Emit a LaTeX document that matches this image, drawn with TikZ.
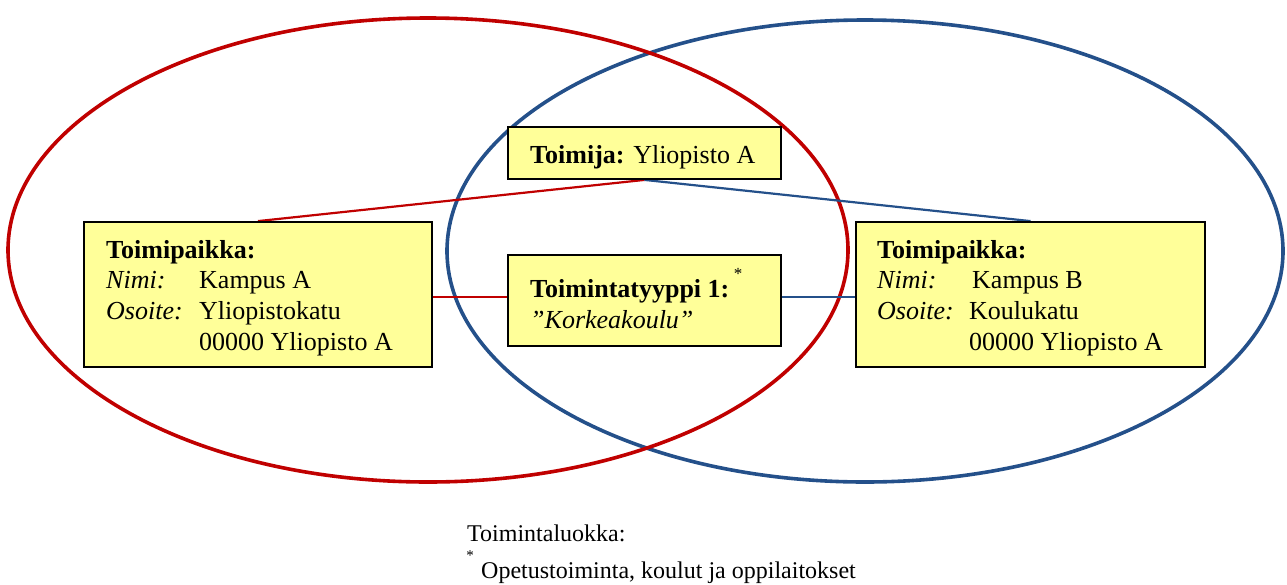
\documentclass[tikz,border=0pt]{standalone}
\usepackage{fontspec}
\setmainfont{Liberation Serif}
\definecolor{ered}{HTML}{C00000}
\definecolor{eblue}{HTML}{24508A}
\definecolor{boxfill}{HTML}{FFFF99}
\begin{document}
\begin{tikzpicture}[x=1pt,y=-1pt,
  box/.style={draw=black,line width=1.8pt,fill=boxfill,inner sep=0pt,rectangle},
  txt/.style={inner sep=0pt,anchor=base west,font=\fontsize{26}{31}\selectfont},
  note/.style={inner sep=0pt,anchor=base west,font=\fontsize{24}{28}\selectfont},
  redline/.style={draw=ered,line width=2.2pt},
  blueline/.style={draw=eblue,line width=2.2pt}]
\useasboundingbox (0,0) rectangle (1287,584);
% ellipses
\draw[eblue,line width=3.6pt] (865,251) ellipse [x radius=418pt, y radius=231pt];
\draw[ered,line width=3.6pt] (428,250) ellipse [x radius=420pt, y radius=232pt];
% boxes
\node[box,minimum width=348pt,minimum height=145pt] (tpA) at (258,294.5) {};
\node[box,minimum width=349pt,minimum height=145pt] (tpB) at (1030.5,294.5) {};
\node[box,minimum width=273pt,minimum height=52pt] (tj) at (644.5,153) {};
\node[box,minimum width=273pt,minimum height=91pt] (tt) at (644.5,300.5) {};
\coordinate (hl) at (0,297);
% connectors
\draw[redline] (tj.south) -- (tpA.north);
\draw[blueline] (tj.south) -- (tpB.north);
\draw[redline] (tpA.east |- hl) -- (tt.west |- hl);
\draw[blueline] (tt.east |- hl) -- (tpB.west |- hl);
\node[box,minimum width=348pt,minimum height=145pt] at (258,294.5) {};
\node[box,minimum width=349pt,minimum height=145pt] at (1030.5,294.5) {};
\node[box,minimum width=273pt,minimum height=52pt] at (644.5,153) {};
\node[box,minimum width=273pt,minimum height=91pt] at (644.5,300.5) {};
% texts
\node[txt] (tjt) at (530,163) {\textbf{Toimija:} Yliopisto A};
\node[txt] (ttt) at (530,297) {\textbf{Toimintatyyppi 1:}};
\node[inner sep=0pt,font=\fontsize{17}{20}\selectfont] (tts) at (738,274) {*};
\node[txt] (ttk) at (530,328) {\textit{”Korkeakoulu”}};
\node[txt] (a1) at (106,258) {\textbf{Toimipaikka:}};
\node[txt] (a2) at (106,288) {\textit{Nimi:}};
\node[txt] (a3) at (199,288) {Kampus A};
\node[txt] (a4) at (106,319) {\textit{Osoite:}};
\node[txt] (a5) at (199,319) {Yliopistokatu};
\node[txt] (a6) at (199,350) {00000 Yliopisto A};
\node[txt] (b1) at (877,258) {\textbf{Toimipaikka:}};
\node[txt] (b2) at (877,288) {\textit{Nimi:}};
\node[txt] (b3) at (972,288) {Kampus B};
\node[txt] (b4) at (877,319) {\textit{Osoite:}};
\node[txt] (b5) at (969,319) {Koulukatu};
\node[txt] (b6) at (969,350) {00000 Yliopisto A};
\node[note] (n1) at (467,541) {Toimintaluokka:};
\node[inner sep=0pt,font=\fontsize{15}{18}\selectfont] (n2) at (470,556) {*};
\node[note] (n3) at (481,578) {Opetustoiminta, koulut ja oppilaitokset};
\end{tikzpicture}
\end{document}
